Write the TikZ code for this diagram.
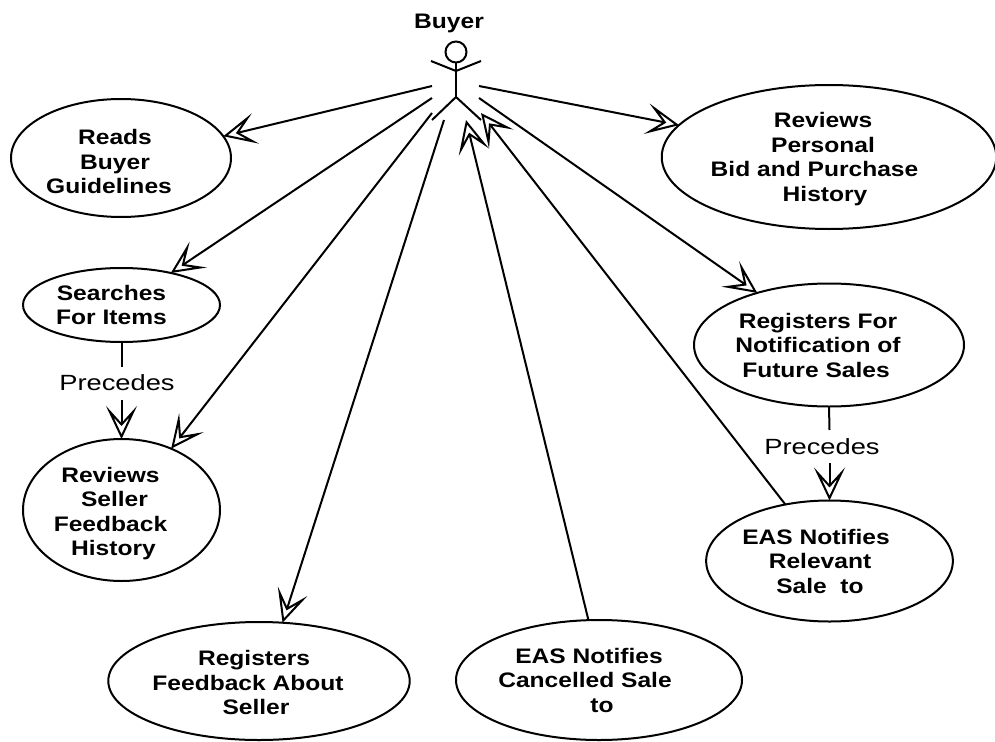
\documentclass[tikz,border=0pt]{standalone}
\usepackage{fontspec}
\setmainfont[FakeStretch=1.17]{Liberation Sans}
\newfontfamily\precfont[FakeStretch=1.24]{Liberation Sans}
\usetikzlibrary{arrows.meta,shapes.geometric}
\newcommand{\pad}[1]{\rule{#1pt}{0pt}}
\newcommand{\down}[1]{\rule{0pt}{#1pt}}

\begin{document}
\begin{tikzpicture}[x=1pt,y=-1pt,line width=2pt]
    \useasboundingbox (0,0) rectangle (995,741);
    \clip (0,0) rectangle (995,741);

    %Actor
    \node[font=\fontsize{21}{24.5}\bfseries] (buyer) at (449,23) {Buyer};
    \node[circle,draw,minimum size=21pt,inner sep=0pt,outer sep=0pt] (head) at (456,52) {};
    \coordinate (neck) at (456,71);
    \coordinate (armL) at (431,61);
    \coordinate (armR) at (481,61);
    \coordinate (hip) at (456,97);
    \coordinate (legL) at (432,120);
    \coordinate (legR) at (481,120);
    \draw (head) -- (hip);
    \draw (armL) -- (neck) -- (armR);
    \draw (legL) -- (hip) -- (legR);

    %Arrow ends at the actor
    \coordinate (a1) at (432,86);
    \coordinate (a2) at (432,98);
    \coordinate (a3) at (432,113);
    \coordinate (a4) at (444,120);
    \coordinate (a5) at (466,120);
    \coordinate (a6) at (481,113);
    \coordinate (a7) at (479,98);
    \coordinate (a8) at (479,86);

    %Use cases
    \begin{scope}[every node/.style={ellipse,draw,inner sep=0pt,outer sep=0pt,align=center,
        font=\fontsize{21}{24.5}\bfseries}]
      \node[minimum width=220pt,minimum height=118pt] (reads) at (121,158)
        {\down{23}Reads\pad{12}\\Buyer\pad{12}\\Guidelines\pad{24}};
      \node[minimum width=332pt,minimum height=144pt] (history) at (829,157)
        {\down{19}Reviews\pad{12}\\Personal\pad{12}\\Bid and Purchase\pad{29}\\History\pad{8}};
      \node[minimum width=197pt,minimum height=74pt] (search) at (121.5,305)
        {Searches\pad{20}\\For Items\pad{20}};
      \node[minimum width=197pt,minimum height=142pt] (seller) at (121.5,510)
        {\down{22}Reviews\pad{22}\\Seller\pad{14}\\Feedback\pad{22}\\History\pad{16}};
      \node[minimum width=286pt,minimum height=118pt] (feedback) at (259,681)
        {\down{19}Registers\pad{10}\\Feedback About\pad{22}\\Seller\pad{6}};
      \node[minimum width=286pt,minimum height=120pt] (cancel) at (599,680)
        {EAS Notifies\pad{20}\\Cancelled Sale\pad{28}\\\pad{6}to};
      \node[minimum width=270pt,minimum height=123pt] (register) at (829,345)
        {Registers For\pad{22}\\Notification of\pad{22}\\Future Sales\pad{26}};
      \node[minimum width=245pt,minimum height=121pt] (notify) at (829.5,561)
        {EAS Notifies\pad{27}\\Relevant\pad{19}\\Sale\ \ to\pad{19}};
    \end{scope}

    %Precedes labels
    \begin{scope}[every node/.style={font=\fontsize{22}{25}\precfont,inner sep=0pt}]
      \node (prec1) at (117,383) {Precedes};
      \node (prec2) at (822,447) {Precedes};
    \end{scope}
    \coordinate (p1a) at (121.5,367);
    \coordinate (p1b) at (121.5,400);
    \coordinate (p2a) at (829.5,430);
    \coordinate (p2b) at (829.5,463);

    \begin{scope}[every edge/.style={draw,-{Stealth[open,length=33pt,width=31pt,inset=17pt,sep=0pt]}}]
      \path (a1) edge (reads.12);
      \path (a2) edge (search.33);
      \path (a3) edge (seller.51);
      \path (a4) edge (feedback.68);
      \path (cancel.100.4) edge (a5);
      \path (notify.128.5) edge (a6);
      \path (a7) edge (register.144);
      \path (a8) edge (history.168.2);
      \path (p1b) edge (seller.90);
      \path (p2b) edge (notify.90);
    \end{scope}
    \draw (search.south) -- (p1a);
    \draw (register.south) -- (p2a);
\end{tikzpicture}
\end{document}
